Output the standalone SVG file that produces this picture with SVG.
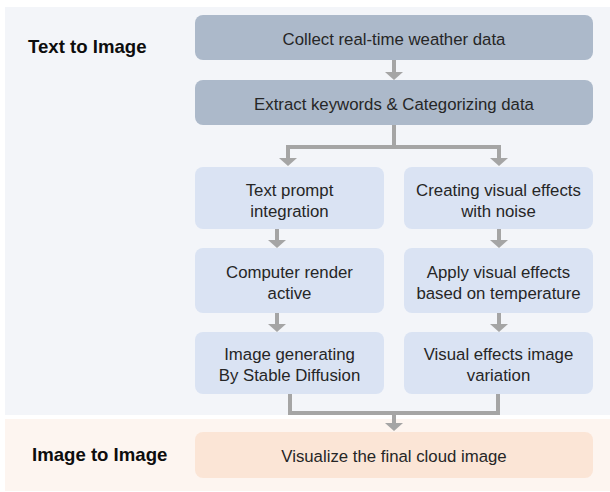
<svg xmlns="http://www.w3.org/2000/svg" width="610" height="492" viewBox="0 0 610 492">
<style>
.lbl{font-family:"Liberation Sans",Arial,sans-serif;font-size:16.8px;fill:#262626;text-anchor:middle}
.sec{font-family:"Liberation Sans",Arial,sans-serif;font-weight:bold;font-size:18.6px;fill:#0d0d0d}
.dark{fill:#acb9ca}
.light{fill:#dae3f3}
.peach{fill:#fbe5d6}
.ln{fill:none;stroke:#a5a5a5;stroke-width:4}
.hd{fill:#a5a5a5}
</style>
<rect x="0" y="0" width="610" height="492" fill="#ffffff"/>
<rect x="5" y="7" width="605" height="408" fill="#f3f5f9"/>
<rect x="5" y="419" width="605" height="72" fill="#fdf5f0"/>
<g id="label-text-to-image"><text class="sec" x="28" y="53">Text to Image</text></g>
<g id="label-image-to-image"><text class="sec" x="32" y="461">Image to Image</text></g>
<g id="connectors">
<path class="ln" d="M394 60V73"/>
<path class="hd" d="M385 72H403L394 80Z"/>
<path class="ln" d="M394 125V147H288V159M394 147H499V159"/>
<path class="hd" d="M279 158H297L288 166Z"/>
<path class="hd" d="M490 158H508L499 166Z"/>
<path class="ln" d="M277 229V241"/>
<path class="hd" d="M268 240H286L277 248Z"/>
<path class="ln" d="M499 229V241"/>
<path class="hd" d="M490 240H508L499 248Z"/>
<path class="ln" d="M277 313V325"/>
<path class="hd" d="M268 324H286L277 332Z"/>
<path class="ln" d="M499 313V325"/>
<path class="hd" d="M490 324H508L499 332Z"/>
<path class="ln" d="M290 394V413H498V394M394 413V424"/>
<path class="hd" d="M385 423H403L394 431Z"/>
</g>
<g id="collect"><rect class="dark" x="195" y="15" width="398" height="45" rx="8"/><text class="lbl" x="394" y="45">Collect real-time weather data</text></g>
<g id="extract"><rect class="dark" x="195" y="80" width="398" height="45" rx="8"/><text class="lbl" x="394" y="110">Extract keywords &amp; Categorizing data</text></g>
<g id="text-prompt"><rect class="light" x="195" y="167" width="189" height="62" rx="8"/><text class="lbl" x="289.5" y="196">Text prompt</text><text class="lbl" x="289.5" y="217">integration</text></g>
<g id="creating"><rect class="light" x="404" y="167" width="189" height="62" rx="8"/><text class="lbl" x="498.5" y="196">Creating visual effects</text><text class="lbl" x="498.5" y="217">with noise</text></g>
<g id="computer"><rect class="light" x="195" y="248" width="189" height="65" rx="8"/><text class="lbl" x="289.5" y="278">Computer render</text><text class="lbl" x="289.5" y="299">active</text></g>
<g id="apply"><rect class="light" x="404" y="248" width="189" height="65" rx="8"/><text class="lbl" x="498.5" y="278">Apply visual effects</text><text class="lbl" x="498.5" y="299">based on temperature</text></g>
<g id="image-gen"><rect class="light" x="195" y="332" width="189" height="62" rx="8"/><text class="lbl" x="289.5" y="360">Image generating</text><text class="lbl" x="289.5" y="381">By Stable Diffusion</text></g>
<g id="variation"><rect class="light" x="404" y="332" width="189" height="62" rx="8"/><text class="lbl" x="498.5" y="360">Visual effects image</text><text class="lbl" x="498.5" y="381">variation</text></g>
<g id="final"><rect class="peach" x="195" y="432" width="398" height="46" rx="8"/><text class="lbl" x="394" y="462">Visualize the final cloud image</text></g>
</svg>
